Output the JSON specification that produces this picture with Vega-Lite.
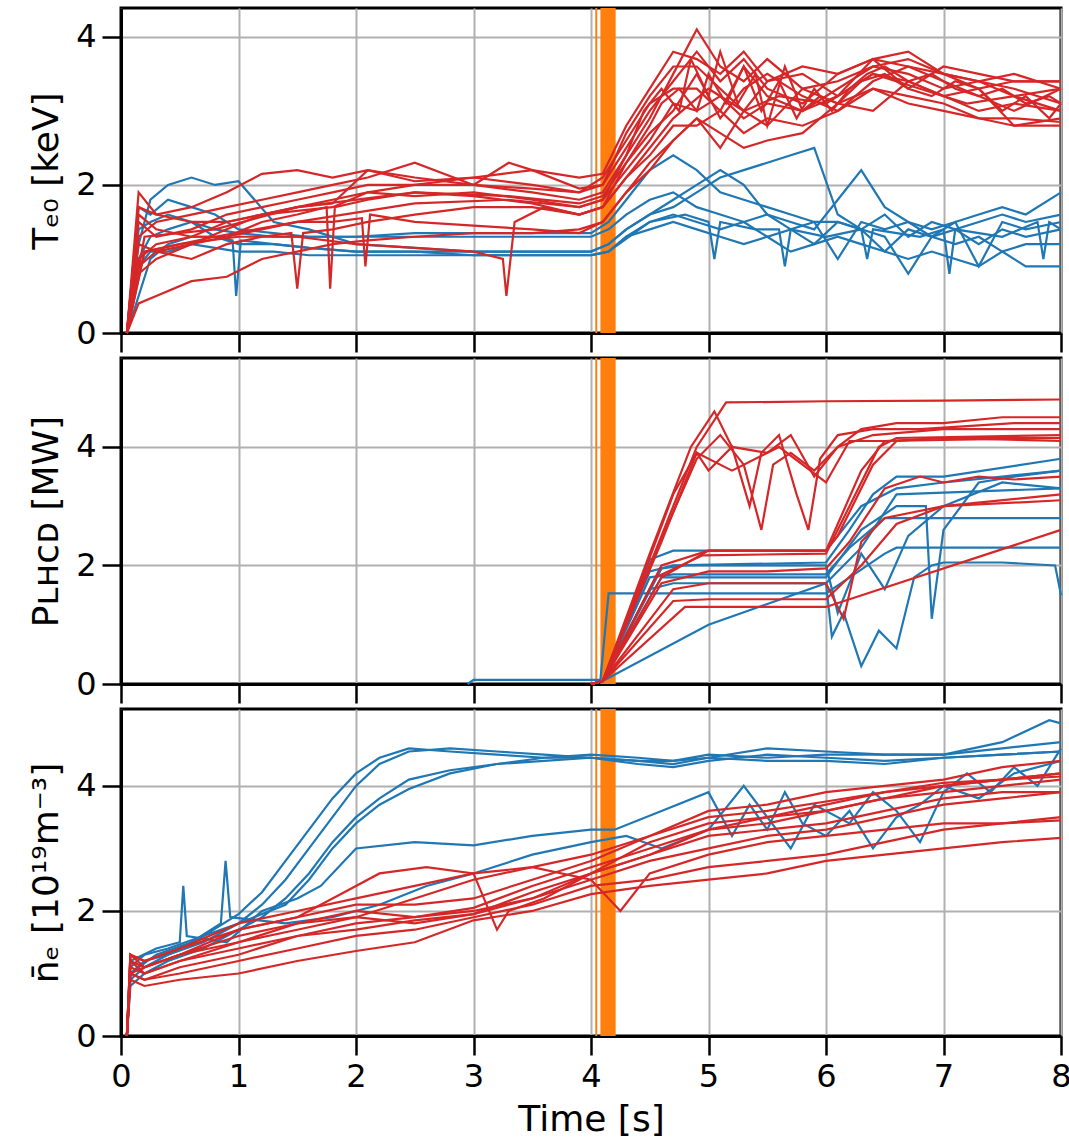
{
"$schema":"https://vega.github.io/schema/vega-lite/v6.json",
"padding":{"left":27,"top":5,"right":0,"bottom":2},
"spacing":25,
"bounds":"flush",
"datasets":{
"teR":[
{"s":1,"t":0.05,"v":0},{"s":1,"t":0.15,"v":1.5},{"s":1,"t":0.3,"v":1.3},{"s":1,"t":0.6,"v":1.4},{"s":1,"t":0.9,"v":1.6},{"s":1,"t":1.2,"v":1.7},{"s":1,"t":1.5,"v":1.8},{"s":1,"t":1.8,"v":1.9},{"s":1,"t":2.1,"v":2.0},{"s":1,"t":2.5,"v":2.0},{"s":1,"t":3.0,"v":2.0},{"s":1,"t":3.5,"v":1.9},{"s":1,"t":3.9,"v":1.8},{"s":1,"t":4.1,"v":1.9},{"s":1,"t":4.3,"v":2.4},{"s":1,"t":4.5,"v":2.9},{"s":1,"t":4.7,"v":3.5},{"s":1,"t":4.9,"v":4.1},{"s":1,"t":5.1,"v":3.6},{"s":1,"t":5.3,"v":3.4},{"s":1,"t":5.5,"v":3.7},{"s":1,"t":5.8,"v":3.3},{"s":1,"t":6.1,"v":3.4},{"s":1,"t":6.4,"v":3.6},{"s":1,"t":6.7,"v":3.5},{"s":1,"t":7.0,"v":3.3},{"s":1,"t":7.3,"v":3.4},{"s":1,"t":7.6,"v":3.2},{"s":1,"t":8.0,"v":3.3},
{"s":2,"t":0.05,"v":0},{"s":2,"t":0.15,"v":1.0},{"s":2,"t":0.3,"v":1.2},{"s":2,"t":0.6,"v":1.3},{"s":2,"t":0.9,"v":1.5},{"s":2,"t":1.2,"v":1.6},{"s":2,"t":1.5,"v":1.7},{"s":2,"t":1.8,"v":1.8},{"s":2,"t":2.1,"v":1.9},{"s":2,"t":2.5,"v":2.0},{"s":2,"t":3.0,"v":2.1},{"s":2,"t":3.5,"v":2.0},{"s":2,"t":3.9,"v":1.9},{"s":2,"t":4.1,"v":2.0},{"s":2,"t":4.3,"v":2.5},{"s":2,"t":4.5,"v":3.0},{"s":2,"t":4.7,"v":3.4},{"s":2,"t":4.9,"v":3.8},{"s":2,"t":5.1,"v":3.4},{"s":2,"t":5.3,"v":3.7},{"s":2,"t":5.5,"v":3.3},{"s":2,"t":5.8,"v":3.1},{"s":2,"t":6.1,"v":3.5},{"s":2,"t":6.4,"v":3.7},{"s":2,"t":6.7,"v":3.6},{"s":2,"t":7.0,"v":3.5},{"s":2,"t":7.3,"v":3.3},{"s":2,"t":7.6,"v":3.4},{"s":2,"t":8.0,"v":3.4},
{"s":3,"t":0.05,"v":0},{"s":3,"t":0.15,"v":0.8},{"s":3,"t":0.3,"v":1.0},{"s":3,"t":0.6,"v":1.2},{"s":3,"t":0.9,"v":1.4},{"s":3,"t":1.2,"v":1.6},{"s":3,"t":1.5,"v":1.65},{"s":3,"t":1.8,"v":1.7},{"s":3,"t":2.1,"v":1.9},{"s":3,"t":2.5,"v":1.85},{"s":3,"t":3.0,"v":1.9},{"s":3,"t":3.5,"v":1.8},{"s":3,"t":3.9,"v":1.7},{"s":3,"t":4.1,"v":1.8},{"s":3,"t":4.3,"v":2.2},{"s":3,"t":4.5,"v":2.6},{"s":3,"t":4.7,"v":3.1},{"s":3,"t":4.9,"v":3.0},{"s":3,"t":5.1,"v":3.2},{"s":3,"t":5.3,"v":2.9},{"s":3,"t":5.5,"v":3.1},{"s":3,"t":5.8,"v":3.0},{"s":3,"t":6.1,"v":3.2},{"s":3,"t":6.4,"v":3.5},{"s":3,"t":6.7,"v":3.4},{"s":3,"t":7.0,"v":3.2},{"s":3,"t":7.3,"v":3.0},{"s":3,"t":7.6,"v":3.1},{"s":3,"t":8.0,"v":3.0},
{"s":4,"t":0.05,"v":0},{"s":4,"t":0.15,"v":1.9},{"s":4,"t":0.3,"v":1.6},{"s":4,"t":0.6,"v":1.5},{"s":4,"t":0.9,"v":1.5},{"s":4,"t":1.2,"v":1.6},{"s":4,"t":1.5,"v":1.7},{"s":4,"t":1.8,"v":1.75},{"s":4,"t":2.1,"v":2.2},{"s":4,"t":2.5,"v":2.1},{"s":4,"t":3.0,"v":2.0},{"s":4,"t":3.5,"v":1.95},{"s":4,"t":3.9,"v":1.9},{"s":4,"t":4.1,"v":2.1},{"s":4,"t":4.3,"v":2.6},{"s":4,"t":4.5,"v":3.1},{"s":4,"t":4.7,"v":3.3},{"s":4,"t":4.9,"v":3.3},{"s":4,"t":5.1,"v":3.0},{"s":4,"t":5.3,"v":3.6},{"s":4,"t":5.5,"v":3.2},{"s":4,"t":5.8,"v":3.0},{"s":4,"t":6.1,"v":3.3},{"s":4,"t":6.4,"v":3.6},{"s":4,"t":6.7,"v":3.7},{"s":4,"t":7.0,"v":3.5},{"s":4,"t":7.3,"v":3.4},{"s":4,"t":7.6,"v":3.3},{"s":4,"t":8.0,"v":3.1},
{"s":5,"t":0.05,"v":0},{"s":5,"t":0.15,"v":1.2},{"s":5,"t":0.3,"v":1.1},{"s":5,"t":0.6,"v":1.0},{"s":5,"t":0.9,"v":1.2},{"s":5,"t":1.2,"v":1.3},{"s":5,"t":1.45,"v":1.35},{"s":5,"t":1.5,"v":0.6},{"s":5,"t":1.55,"v":1.35},{"s":5,"t":1.8,"v":1.4},{"s":5,"t":2.1,"v":1.5},{"s":5,"t":2.5,"v":1.6},{"s":5,"t":3.0,"v":1.7},{"s":5,"t":3.5,"v":1.7},{"s":5,"t":3.9,"v":1.6},{"s":5,"t":4.1,"v":1.7},{"s":5,"t":4.3,"v":2.1},{"s":5,"t":4.5,"v":2.4},{"s":5,"t":4.7,"v":2.8},{"s":5,"t":4.9,"v":2.8},{"s":5,"t":5.1,"v":3.0},{"s":5,"t":5.3,"v":2.7},{"s":5,"t":5.5,"v":2.9},{"s":5,"t":5.8,"v":2.8},{"s":5,"t":6.1,"v":3.0},{"s":5,"t":6.4,"v":3.3},{"s":5,"t":6.7,"v":3.2},{"s":5,"t":7.0,"v":3.1},{"s":5,"t":7.3,"v":2.9},{"s":5,"t":7.6,"v":2.8},{"s":5,"t":8.0,"v":2.9},
{"s":6,"t":0.05,"v":0},{"s":6,"t":0.15,"v":1.6},{"s":6,"t":0.3,"v":1.4},{"s":6,"t":0.6,"v":1.3},{"s":6,"t":0.9,"v":1.3},{"s":6,"t":1.2,"v":1.5},{"s":6,"t":1.5,"v":1.6},{"s":6,"t":1.75,"v":1.7},{"s":6,"t":1.78,"v":0.6},{"s":6,"t":1.82,"v":1.7},{"s":6,"t":2.1,"v":1.8},{"s":6,"t":2.5,"v":1.9},{"s":6,"t":3.0,"v":1.85},{"s":6,"t":3.5,"v":1.75},{"s":6,"t":3.9,"v":1.6},{"s":6,"t":4.1,"v":1.7},{"s":6,"t":4.3,"v":2.3},{"s":6,"t":4.5,"v":2.7},{"s":6,"t":4.7,"v":3.0},{"s":6,"t":4.9,"v":3.5},{"s":6,"t":5.1,"v":2.9},{"s":6,"t":5.3,"v":3.3},{"s":6,"t":5.5,"v":3.5},{"s":6,"t":5.8,"v":3.2},{"s":6,"t":6.1,"v":3.0},{"s":6,"t":6.4,"v":3.4},{"s":6,"t":6.7,"v":3.6},{"s":6,"t":7.0,"v":3.4},{"s":6,"t":7.3,"v":3.2},{"s":6,"t":7.6,"v":3.0},{"s":6,"t":8.0,"v":3.3},
{"s":7,"t":0.05,"v":0},{"s":7,"t":0.15,"v":1.3},{"s":7,"t":0.3,"v":1.5},{"s":7,"t":0.6,"v":1.6},{"s":7,"t":0.9,"v":1.7},{"s":7,"t":1.2,"v":1.8},{"s":7,"t":1.5,"v":1.9},{"s":7,"t":1.8,"v":2.0},{"s":7,"t":2.1,"v":2.1},{"s":7,"t":2.5,"v":2.3},{"s":7,"t":3.0,"v":2.0},{"s":7,"t":3.3,"v":2.3},{"s":7,"t":3.5,"v":2.2},{"s":7,"t":3.9,"v":1.95},{"s":7,"t":4.1,"v":2.0},{"s":7,"t":4.3,"v":2.7},{"s":7,"t":4.5,"v":3.2},{"s":7,"t":4.7,"v":3.6},{"s":7,"t":4.9,"v":3.6},{"s":7,"t":5.1,"v":3.3},{"s":7,"t":5.3,"v":3.0},{"s":7,"t":5.5,"v":3.4},{"s":7,"t":5.8,"v":3.5},{"s":7,"t":6.1,"v":3.2},{"s":7,"t":6.4,"v":3.7},{"s":7,"t":6.7,"v":3.3},{"s":7,"t":7.0,"v":3.6},{"s":7,"t":7.3,"v":3.5},{"s":7,"t":7.6,"v":3.4},{"s":7,"t":8.0,"v":3.4},
{"s":8,"t":0.05,"v":0},{"s":8,"t":0.15,"v":0.9},{"s":8,"t":0.3,"v":1.1},{"s":8,"t":0.6,"v":1.2},{"s":8,"t":0.9,"v":1.3},{"s":8,"t":1.2,"v":1.4},{"s":8,"t":1.5,"v":1.5},{"s":8,"t":1.8,"v":1.5},{"s":8,"t":2.05,"v":1.55},{"s":8,"t":2.08,"v":0.9},{"s":8,"t":2.12,"v":1.6},{"s":8,"t":2.5,"v":1.5},{"s":8,"t":3.0,"v":1.45},{"s":8,"t":3.5,"v":1.4},{"s":8,"t":3.9,"v":1.35},{"s":8,"t":4.1,"v":1.5},{"s":8,"t":4.3,"v":1.9},{"s":8,"t":4.5,"v":2.2},{"s":8,"t":4.7,"v":2.6},{"s":8,"t":4.9,"v":2.9},{"s":8,"t":5.1,"v":2.5},{"s":8,"t":5.3,"v":3.0},{"s":8,"t":5.5,"v":2.8},{"s":8,"t":5.8,"v":3.3},{"s":8,"t":6.1,"v":3.1},{"s":8,"t":6.4,"v":3.0},{"s":8,"t":6.7,"v":3.4},{"s":8,"t":7.0,"v":3.2},{"s":8,"t":7.3,"v":3.3},{"s":8,"t":7.6,"v":2.8},{"s":8,"t":8.0,"v":2.8},
{"s":9,"t":0.05,"v":0},{"s":9,"t":0.2,"v":1.1},{"s":9,"t":0.5,"v":1.2},{"s":9,"t":1.0,"v":1.3},{"s":9,"t":1.5,"v":1.3},{"s":9,"t":2.0,"v":1.2},{"s":9,"t":2.5,"v":1.15},{"s":9,"t":3.0,"v":1.1},{"s":9,"t":3.25,"v":1.0},{"s":9,"t":3.28,"v":0.5},{"s":9,"t":3.35,"v":1.5},{"s":9,"t":3.6,"v":1.7},{"s":9,"t":3.9,"v":1.6},{"s":9,"t":4.1,"v":1.7},{"s":9,"t":4.4,"v":2.3},{"s":9,"t":4.7,"v":2.9},{"s":9,"t":5.0,"v":3.3},{"s":9,"t":5.3,"v":3.0},{"s":9,"t":5.6,"v":3.2},{"s":9,"t":6.0,"v":3.1},{"s":9,"t":6.4,"v":3.5},{"s":9,"t":6.8,"v":3.3},{"s":9,"t":7.2,"v":3.1},{"s":9,"t":7.6,"v":3.2},{"s":9,"t":8.0,"v":3.0},
{"s":10,"t":0.05,"v":0},{"s":10,"t":0.15,"v":0.4},{"s":10,"t":0.3,"v":0.5},{"s":10,"t":0.6,"v":0.7},{"s":10,"t":0.9,"v":0.76},{"s":10,"t":1.2,"v":1.0},{"s":10,"t":1.5,"v":1.1},{"s":10,"t":1.8,"v":1.2},{"s":10,"t":2.1,"v":1.25},{"s":10,"t":2.5,"v":1.3},{"s":10,"t":3.0,"v":1.35},{"s":10,"t":3.5,"v":1.35},{"s":10,"t":3.9,"v":1.4},{"s":10,"t":4.1,"v":1.5},{"s":10,"t":4.3,"v":1.9},{"s":10,"t":4.5,"v":2.3},{"s":10,"t":4.7,"v":2.6},{"s":10,"t":4.9,"v":2.9},{"s":10,"t":5.1,"v":2.7},{"s":10,"t":5.3,"v":2.5},{"s":10,"t":5.5,"v":2.6},{"s":10,"t":5.8,"v":2.7},{"s":10,"t":6.1,"v":3.1},{"s":10,"t":6.4,"v":3.3},{"s":10,"t":6.7,"v":3.1},{"s":10,"t":7.0,"v":3.0},{"s":10,"t":7.3,"v":2.9},{"s":10,"t":7.6,"v":2.9},{"s":10,"t":8.0,"v":2.85},
{"s":11,"t":0.05,"v":0},{"s":11,"t":0.15,"v":1.7},{"s":11,"t":0.3,"v":1.6},{"s":11,"t":0.6,"v":1.7},{"s":11,"t":0.9,"v":1.9},{"s":11,"t":1.2,"v":2.15},{"s":11,"t":1.5,"v":2.2},{"s":11,"t":1.8,"v":2.1},{"s":11,"t":2.1,"v":2.2},{"s":11,"t":2.5,"v":2.05},{"s":11,"t":3.0,"v":2.1},{"s":11,"t":3.5,"v":2.2},{"s":11,"t":3.9,"v":2.1},{"s":11,"t":4.1,"v":2.15},{"s":11,"t":4.3,"v":2.8},{"s":11,"t":4.5,"v":3.3},{"s":11,"t":4.7,"v":3.8},{"s":11,"t":4.9,"v":3.7},{"s":11,"t":5.1,"v":3.5},{"s":11,"t":5.3,"v":3.8},{"s":11,"t":5.5,"v":3.4},{"s":11,"t":5.8,"v":3.6},{"s":11,"t":6.1,"v":3.5},{"s":11,"t":6.4,"v":3.7},{"s":11,"t":6.7,"v":3.8},{"s":11,"t":7.0,"v":3.5},{"s":11,"t":7.3,"v":3.4},{"s":11,"t":7.6,"v":3.5},{"s":11,"t":8.0,"v":3.3},
{"s":12,"t":0.05,"v":0},{"s":12,"t":0.2,"v":1.3},{"s":12,"t":0.8,"v":1.4},{"s":12,"t":1.5,"v":1.7},{"s":12,"t":2.5,"v":1.9},{"s":12,"t":3.3,"v":1.85},{"s":12,"t":3.9,"v":1.75},{"s":12,"t":4.1,"v":1.85},{"s":12,"t":4.3,"v":2.3},{"s":12,"t":4.5,"v":2.8},{"s":12,"t":4.6,"v":3.1},{"s":12,"t":4.75,"v":3.3},{"s":12,"t":4.9,"v":3.0},{"s":12,"t":5.0,"v":3.5},{"s":12,"t":5.15,"v":3.1},{"s":12,"t":5.3,"v":3.6},{"s":12,"t":5.45,"v":3.0},{"s":12,"t":5.6,"v":3.4},{"s":12,"t":5.75,"v":2.9},{"s":12,"t":5.9,"v":3.3},{"s":12,"t":6.05,"v":3.0},{"s":12,"t":6.2,"v":3.3},{"s":12,"t":6.35,"v":3.5},{"s":12,"t":6.5,"v":3.6},{"s":12,"t":6.7,"v":3.4},{"s":12,"t":6.9,"v":3.5},{"s":12,"t":7.1,"v":3.3},{"s":12,"t":7.3,"v":3.2},{"s":12,"t":7.5,"v":3.3},{"s":12,"t":7.7,"v":3.1},{"s":12,"t":7.9,"v":3.2},{"s":12,"t":8.0,"v":3.1},
{"s":13,"t":0.05,"v":0},{"s":13,"t":0.2,"v":1.1},{"s":13,"t":0.8,"v":1.3},{"s":13,"t":1.5,"v":1.5},{"s":13,"t":2.5,"v":1.75},{"s":13,"t":3.3,"v":1.8},{"s":13,"t":3.9,"v":1.7},{"s":13,"t":4.1,"v":1.8},{"s":13,"t":4.3,"v":2.4},{"s":13,"t":4.45,"v":3.0},{"s":13,"t":4.6,"v":3.3},{"s":13,"t":4.75,"v":3.0},{"s":13,"t":4.85,"v":3.7},{"s":13,"t":5.0,"v":3.2},{"s":13,"t":5.1,"v":3.8},{"s":13,"t":5.25,"v":3.1},{"s":13,"t":5.4,"v":3.5},{"s":13,"t":5.5,"v":2.8},{"s":13,"t":5.65,"v":3.6},{"s":13,"t":5.8,"v":3.0},{"s":13,"t":5.95,"v":3.2},{"s":13,"t":6.1,"v":3.1},{"s":13,"t":6.3,"v":3.4},{"s":13,"t":6.5,"v":3.5},{"s":13,"t":6.7,"v":3.3},{"s":13,"t":6.9,"v":3.2},{"s":13,"t":7.1,"v":3.4},{"s":13,"t":7.3,"v":3.3},{"s":13,"t":7.5,"v":3.0},{"s":13,"t":7.7,"v":3.2},{"s":13,"t":7.9,"v":2.9},{"s":13,"t":8.0,"v":3.1}
],
"teB":[
{"s":1,"t":0.05,"v":0},{"s":1,"t":0.15,"v":0.9},{"s":1,"t":0.25,"v":1.1},{"s":1,"t":0.4,"v":1.1},{"s":1,"t":0.6,"v":1.2},{"s":1,"t":0.8,"v":1.15},{"s":1,"t":1.0,"v":1.1},{"s":1,"t":1.3,"v":1.1},{"s":1,"t":1.6,"v":1.05},{"s":1,"t":2.0,"v":1.05},{"s":1,"t":2.5,"v":1.05},{"s":1,"t":3.0,"v":1.05},{"s":1,"t":3.5,"v":1.05},{"s":1,"t":4.0,"v":1.05},{"s":1,"t":4.15,"v":1.1},{"s":1,"t":4.3,"v":1.3},{"s":1,"t":4.5,"v":1.5},{"s":1,"t":4.7,"v":1.6},{"s":1,"t":4.9,"v":1.5},{"s":1,"t":5.1,"v":1.4},{"s":1,"t":5.3,"v":1.5},{"s":1,"t":5.5,"v":1.3},{"s":1,"t":5.7,"v":1.4},{"s":1,"t":5.9,"v":1.2},{"s":1,"t":6.1,"v":1.5},{"s":1,"t":6.3,"v":1.4},{"s":1,"t":6.5,"v":1.1},{"s":1,"t":6.7,"v":1.4},{"s":1,"t":6.9,"v":1.3},{"s":1,"t":7.1,"v":1.4},{"s":1,"t":7.3,"v":1.2},{"s":1,"t":7.5,"v":1.4},{"s":1,"t":7.7,"v":1.3},{"s":1,"t":8.0,"v":1.4},
{"s":2,"t":0.05,"v":0},{"s":2,"t":0.15,"v":1.7},{"s":2,"t":0.25,"v":1.6},{"s":2,"t":0.4,"v":1.8},{"s":2,"t":0.6,"v":1.7},{"s":2,"t":0.8,"v":1.6},{"s":2,"t":1.0,"v":1.4},{"s":2,"t":1.3,"v":1.35},{"s":2,"t":1.6,"v":1.3},{"s":2,"t":2.0,"v":1.3},{"s":2,"t":2.5,"v":1.3},{"s":2,"t":3.0,"v":1.3},{"s":2,"t":3.5,"v":1.3},{"s":2,"t":4.0,"v":1.3},{"s":2,"t":4.15,"v":1.4},{"s":2,"t":4.3,"v":1.6},{"s":2,"t":4.5,"v":1.8},{"s":2,"t":4.7,"v":1.9},{"s":2,"t":4.9,"v":1.7},{"s":2,"t":5.1,"v":1.6},{"s":2,"t":5.3,"v":1.5},{"s":2,"t":5.5,"v":1.6},{"s":2,"t":5.7,"v":1.4},{"s":2,"t":5.9,"v":1.5},{"s":2,"t":6.1,"v":1.0},{"s":2,"t":6.3,"v":1.5},{"s":2,"t":6.5,"v":1.4},{"s":2,"t":6.7,"v":1.5},{"s":2,"t":6.9,"v":1.3},{"s":2,"t":7.1,"v":1.5},{"s":2,"t":7.3,"v":0.9},{"s":2,"t":7.5,"v":1.5},{"s":2,"t":7.7,"v":1.4},{"s":2,"t":8.0,"v":1.5},
{"s":3,"t":0.05,"v":0},{"s":3,"t":0.15,"v":1.4},{"s":3,"t":0.25,"v":1.5},{"s":3,"t":0.4,"v":1.6},{"s":3,"t":0.6,"v":1.5},{"s":3,"t":0.8,"v":1.4},{"s":3,"t":1.0,"v":1.35},{"s":3,"t":1.3,"v":1.3},{"s":3,"t":1.6,"v":1.3},{"s":3,"t":2.0,"v":1.3},{"s":3,"t":2.5,"v":1.35},{"s":3,"t":3.0,"v":1.35},{"s":3,"t":3.5,"v":1.35},{"s":3,"t":4.0,"v":1.35},{"s":3,"t":4.15,"v":1.5},{"s":3,"t":4.3,"v":1.8},{"s":3,"t":4.5,"v":2.2},{"s":3,"t":4.7,"v":2.4},{"s":3,"t":4.9,"v":2.2},{"s":3,"t":5.1,"v":1.9},{"s":3,"t":5.3,"v":1.8},{"s":3,"t":5.5,"v":1.7},{"s":3,"t":5.7,"v":1.6},{"s":3,"t":5.9,"v":1.5},{"s":3,"t":6.1,"v":1.5},{"s":3,"t":6.3,"v":1.4},{"s":3,"t":6.5,"v":1.6},{"s":3,"t":6.7,"v":1.3},{"s":3,"t":6.9,"v":1.5},{"s":3,"t":7.1,"v":1.4},{"s":3,"t":7.3,"v":1.5},{"s":3,"t":7.5,"v":1.6},{"s":3,"t":7.7,"v":1.5},{"s":3,"t":8.0,"v":1.6},
{"s":4,"t":0.05,"v":0},{"s":4,"t":0.15,"v":1.2},{"s":4,"t":0.25,"v":1.8},{"s":4,"t":0.4,"v":2.0},{"s":4,"t":0.6,"v":2.1},{"s":4,"t":0.8,"v":2.0},{"s":4,"t":1.0,"v":2.05},{"s":4,"t":1.3,"v":1.5},{"s":4,"t":1.6,"v":1.4},{"s":4,"t":2.0,"v":1.2},{"s":4,"t":2.5,"v":1.15},{"s":4,"t":3.0,"v":1.1},{"s":4,"t":3.5,"v":1.1},{"s":4,"t":4.0,"v":1.1},{"s":4,"t":4.15,"v":1.2},{"s":4,"t":4.3,"v":1.4},{"s":4,"t":4.5,"v":1.6},{"s":4,"t":4.7,"v":1.7},{"s":4,"t":4.9,"v":1.9},{"s":4,"t":5.1,"v":2.1},{"s":4,"t":5.3,"v":2.2},{"s":4,"t":5.5,"v":2.3},{"s":4,"t":5.7,"v":2.4},{"s":4,"t":5.9,"v":2.5},{"s":4,"t":6.1,"v":1.6},{"s":4,"t":6.3,"v":1.4},{"s":4,"t":6.5,"v":1.3},{"s":4,"t":6.7,"v":0.8},{"s":4,"t":6.9,"v":1.3},{"s":4,"t":7.1,"v":1.2},{"s":4,"t":7.3,"v":1.3},{"s":4,"t":7.5,"v":1.1},{"s":4,"t":7.7,"v":1.2},{"s":4,"t":8.0,"v":1.2},
{"s":5,"t":0.05,"v":0},{"s":5,"t":0.15,"v":1.0},{"s":5,"t":0.25,"v":1.3},{"s":5,"t":0.4,"v":1.4},{"s":5,"t":0.6,"v":1.5},{"s":5,"t":0.8,"v":1.3},{"s":5,"t":1.0,"v":1.2},{"s":5,"t":1.3,"v":1.2},{"s":5,"t":1.6,"v":1.15},{"s":5,"t":2.0,"v":1.1},{"s":5,"t":2.5,"v":1.1},{"s":5,"t":3.0,"v":1.1},{"s":5,"t":3.5,"v":1.1},{"s":5,"t":4.0,"v":1.1},{"s":5,"t":4.15,"v":1.2},{"s":5,"t":4.3,"v":1.4},{"s":5,"t":4.5,"v":1.6},{"s":5,"t":4.7,"v":1.8},{"s":5,"t":4.9,"v":2.0},{"s":5,"t":5.1,"v":2.2},{"s":5,"t":5.3,"v":2.0},{"s":5,"t":5.5,"v":1.6},{"s":5,"t":5.7,"v":1.5},{"s":5,"t":5.9,"v":1.4},{"s":5,"t":6.1,"v":1.8},{"s":5,"t":6.3,"v":2.2},{"s":5,"t":6.5,"v":1.7},{"s":5,"t":6.7,"v":1.5},{"s":5,"t":6.9,"v":1.4},{"s":5,"t":7.1,"v":1.5},{"s":5,"t":7.3,"v":1.6},{"s":5,"t":7.5,"v":1.7},{"s":5,"t":7.7,"v":1.6},{"s":5,"t":8.0,"v":1.9},
{"s":6,"t":0.05,"v":0},{"s":6,"t":0.15,"v":0.5},{"s":6,"t":0.25,"v":1.0},{"s":6,"t":0.4,"v":1.2},{"s":6,"t":0.6,"v":1.3},{"s":6,"t":0.8,"v":1.3},{"s":6,"t":0.95,"v":1.25},{"s":6,"t":0.98,"v":0.5},{"s":6,"t":1.02,"v":1.25},{"s":6,"t":1.3,"v":1.2},{"s":6,"t":1.6,"v":1.15},{"s":6,"t":2.0,"v":1.1},{"s":6,"t":2.5,"v":1.1},{"s":6,"t":3.0,"v":1.05},{"s":6,"t":3.5,"v":1.05},{"s":6,"t":4.0,"v":1.05},{"s":6,"t":4.15,"v":1.1},{"s":6,"t":4.3,"v":1.3},{"s":6,"t":4.5,"v":1.4},{"s":6,"t":4.7,"v":1.5},{"s":6,"t":4.9,"v":1.4},{"s":6,"t":5.1,"v":1.3},{"s":6,"t":5.3,"v":1.2},{"s":6,"t":5.5,"v":1.3},{"s":6,"t":5.7,"v":1.1},{"s":6,"t":5.9,"v":1.2},{"s":6,"t":6.1,"v":1.3},{"s":6,"t":6.3,"v":1.2},{"s":6,"t":6.5,"v":1.1},{"s":6,"t":6.7,"v":1.0},{"s":6,"t":6.9,"v":1.1},{"s":6,"t":7.1,"v":1.0},{"s":6,"t":7.3,"v":0.9},{"s":6,"t":7.5,"v":1.1},{"s":6,"t":7.7,"v":0.9},{"s":6,"t":8.0,"v":0.9},
{"s":7,"t":4.0,"v":1.05},{"s":7,"t":4.15,"v":1.1},{"s":7,"t":4.5,"v":1.5},{"s":7,"t":4.8,"v":1.6},{"s":7,"t":5.0,"v":1.5},{"s":7,"t":5.05,"v":1.0},{"s":7,"t":5.1,"v":1.5},{"s":7,"t":5.4,"v":1.4},{"s":7,"t":5.6,"v":1.4},{"s":7,"t":5.65,"v":0.9},{"s":7,"t":5.7,"v":1.4},{"s":7,"t":6.0,"v":1.3},{"s":7,"t":6.3,"v":1.4},{"s":7,"t":6.35,"v":1.0},{"s":7,"t":6.4,"v":1.4},{"s":7,"t":6.8,"v":1.3},{"s":7,"t":7.0,"v":1.4},{"s":7,"t":7.05,"v":0.8},{"s":7,"t":7.1,"v":1.4},{"s":7,"t":7.5,"v":1.3},{"s":7,"t":7.8,"v":1.5},{"s":7,"t":7.85,"v":1.0},{"s":7,"t":7.9,"v":1.5},{"s":7,"t":8.0,"v":1.4}
],
"pR":[
{"s":1,"t":4.0,"v":0},{"s":1,"t":4.1,"v":0.05},{"s":1,"t":4.5,"v":2.0},{"s":1,"t":4.9,"v":4.0},{"s":1,"t":5.15,"v":4.75},{"s":1,"t":6.0,"v":4.77},{"s":1,"t":7.0,"v":4.78},{"s":1,"t":8.0,"v":4.8},
{"s":2,"t":4.0,"v":0},{"s":2,"t":4.1,"v":0.05},{"s":2,"t":4.5,"v":2.2},{"s":2,"t":4.85,"v":4.0},{"s":2,"t":5.05,"v":4.6},{"s":2,"t":5.2,"v":4.0},{"s":2,"t":5.5,"v":3.9},{"s":2,"t":5.7,"v":4.2},{"s":2,"t":5.9,"v":3.5},{"s":2,"t":6.1,"v":4.0},{"s":2,"t":6.3,"v":4.3},{"s":2,"t":6.6,"v":4.4},{"s":2,"t":7.0,"v":4.4},{"s":2,"t":7.5,"v":4.5},{"s":2,"t":8.0,"v":4.5},
{"s":3,"t":4.0,"v":0},{"s":3,"t":4.1,"v":0.05},{"s":3,"t":4.4,"v":1.6},{"s":3,"t":4.7,"v":3.2},{"s":3,"t":4.9,"v":3.9},{"s":3,"t":5.0,"v":3.6},{"s":3,"t":5.2,"v":4.0},{"s":3,"t":5.35,"v":3.0},{"s":3,"t":5.45,"v":3.9},{"s":3,"t":5.6,"v":4.2},{"s":3,"t":5.75,"v":3.2},{"s":3,"t":5.85,"v":2.6},{"s":3,"t":5.95,"v":3.8},{"s":3,"t":6.1,"v":4.2},{"s":3,"t":6.4,"v":4.3},{"s":3,"t":6.8,"v":4.3},{"s":3,"t":7.2,"v":4.35},{"s":3,"t":7.6,"v":4.4},{"s":3,"t":8.0,"v":4.4},
{"s":4,"t":4.0,"v":0},{"s":4,"t":4.1,"v":0.05},{"s":4,"t":4.5,"v":2.0},{"s":4,"t":4.9,"v":3.8},{"s":4,"t":5.1,"v":4.2},{"s":4,"t":5.3,"v":3.7},{"s":4,"t":5.45,"v":2.6},{"s":4,"t":5.55,"v":3.7},{"s":4,"t":5.7,"v":3.9},{"s":4,"t":5.9,"v":3.6},{"s":4,"t":6.1,"v":4.0},{"s":4,"t":6.4,"v":4.2},{"s":4,"t":7.0,"v":4.3},{"s":4,"t":8.0,"v":4.3},
{"s":5,"t":4.0,"v":0},{"s":5,"t":4.1,"v":0.05},{"s":5,"t":4.6,"v":1.8},{"s":5,"t":5.0,"v":2.25},{"s":5,"t":6.0,"v":2.25},{"s":5,"t":6.1,"v":2.5},{"s":5,"t":6.4,"v":3.7},{"s":5,"t":6.6,"v":4.1},{"s":5,"t":7.0,"v":4.15},{"s":5,"t":8.0,"v":4.1},
{"s":6,"t":4.0,"v":0},{"s":6,"t":4.1,"v":0.05},{"s":6,"t":4.55,"v":1.8},{"s":6,"t":4.95,"v":2.17},{"s":6,"t":6.0,"v":2.2},{"s":6,"t":6.2,"v":3.0},{"s":6,"t":6.45,"v":4.0},{"s":6,"t":6.6,"v":4.15},{"s":6,"t":8.0,"v":4.2},
{"s":7,"t":4.0,"v":0},{"s":7,"t":4.1,"v":0.05},{"s":7,"t":4.8,"v":1.3},{"s":7,"t":5.0,"v":1.3},{"s":7,"t":6.0,"v":1.3},{"s":7,"t":8.0,"v":2.6},
{"s":8,"t":4.0,"v":0},{"s":8,"t":4.1,"v":0.05},{"s":8,"t":4.6,"v":1.7},{"s":8,"t":5.0,"v":1.9},{"s":8,"t":5.5,"v":1.9},{"s":8,"t":6.0,"v":1.95},{"s":8,"t":6.2,"v":2.4},{"s":8,"t":6.5,"v":3.3},{"s":8,"t":6.8,"v":3.5},{"s":8,"t":7.0,"v":3.4},{"s":8,"t":7.3,"v":3.5},{"s":8,"t":7.6,"v":3.45},{"s":8,"t":8.0,"v":3.5},
{"s":9,"t":4.0,"v":0},{"s":9,"t":4.1,"v":0.05},{"s":9,"t":4.7,"v":1.4},{"s":9,"t":5.0,"v":1.43},{"s":9,"t":6.0,"v":1.43},{"s":9,"t":6.3,"v":2.0},{"s":9,"t":6.6,"v":2.7},{"s":9,"t":7.0,"v":3.0},{"s":9,"t":8.0,"v":3.2},
{"s":10,"t":4.0,"v":0},{"s":10,"t":4.1,"v":0.05},{"s":10,"t":4.6,"v":2.4},{"s":10,"t":4.9,"v":3.9},{"s":10,"t":5.2,"v":3.6},{"s":10,"t":5.6,"v":4.0},{"s":10,"t":6.0,"v":3.4},{"s":10,"t":6.2,"v":4.1},{"s":10,"t":6.5,"v":4.1},{"s":10,"t":7.0,"v":4.15},{"s":10,"t":8.0,"v":4.15},
{"s":11,"t":4.0,"v":0},{"s":11,"t":4.1,"v":0.05},{"s":11,"t":4.7,"v":1.6},{"s":11,"t":5.0,"v":1.7},{"s":11,"t":6.0,"v":1.7},{"s":11,"t":6.15,"v":1.1},{"s":11,"t":6.3,"v":2.4},{"s":11,"t":6.5,"v":2.8},{"s":11,"t":7.0,"v":3.0},{"s":11,"t":8.0,"v":3.1},
{"s":12,"t":4.0,"v":0},{"s":12,"t":4.1,"v":0.05},{"s":12,"t":4.6,"v":2.0},{"s":12,"t":5.0,"v":2.25},{"s":12,"t":6.0,"v":2.25},{"s":12,"t":6.3,"v":3.6},{"s":12,"t":6.5,"v":4.1},{"s":12,"t":8.0,"v":4.15}
],
"pB":[
{"s":1,"t":2.95,"v":0},{"s":1,"t":3.0,"v":0.07},{"s":1,"t":4.08,"v":0.07},{"s":1,"t":4.15,"v":1.53},{"s":1,"t":6.0,"v":1.53},{"s":1,"t":6.5,"v":2.2},{"s":1,"t":6.6,"v":2.3},{"s":1,"t":8.0,"v":2.3},
{"s":2,"t":4.0,"v":0},{"s":2,"t":4.1,"v":0.05},{"s":2,"t":4.5,"v":2.1},{"s":2,"t":4.7,"v":2.25},{"s":2,"t":6.0,"v":2.25},{"s":2,"t":6.1,"v":2.5},{"s":2,"t":6.3,"v":3.0},{"s":2,"t":6.6,"v":3.3},{"s":2,"t":7.0,"v":3.4},{"s":2,"t":7.5,"v":3.5},{"s":2,"t":8.0,"v":3.6},
{"s":3,"t":4.0,"v":0},{"s":3,"t":4.1,"v":0.05},{"s":3,"t":4.5,"v":1.6},{"s":3,"t":4.7,"v":1.7},{"s":3,"t":6.0,"v":1.7},{"s":3,"t":6.05,"v":0.8},{"s":3,"t":6.15,"v":1.2},{"s":3,"t":6.3,"v":0.3},{"s":3,"t":6.45,"v":0.9},{"s":3,"t":6.6,"v":0.6},{"s":3,"t":6.75,"v":1.8},{"s":3,"t":6.9,"v":2.0},{"s":3,"t":7.0,"v":2.05},{"s":3,"t":7.5,"v":2.05},{"s":3,"t":7.95,"v":2.0},{"s":3,"t":8.0,"v":1.5},
{"s":4,"t":4.0,"v":0},{"s":4,"t":4.1,"v":0.05},{"s":4,"t":4.5,"v":1.8},{"s":4,"t":4.7,"v":1.85},{"s":4,"t":6.0,"v":1.85},{"s":4,"t":6.2,"v":2.3},{"s":4,"t":6.5,"v":2.8},{"s":4,"t":7.0,"v":2.8},{"s":4,"t":7.5,"v":2.8},{"s":4,"t":8.0,"v":2.8},
{"s":5,"t":4.0,"v":0},{"s":5,"t":4.1,"v":0.05},{"s":5,"t":4.5,"v":1.9},{"s":5,"t":4.7,"v":2.0},{"s":5,"t":6.0,"v":2.05},{"s":5,"t":6.2,"v":2.6},{"s":5,"t":6.4,"v":3.2},{"s":5,"t":6.6,"v":3.5},{"s":5,"t":7.0,"v":3.5},{"s":5,"t":8.0,"v":3.8},
{"s":6,"t":4.0,"v":0},{"s":6,"t":4.1,"v":0.05},{"s":6,"t":4.6,"v":1.95},{"s":6,"t":4.8,"v":2.0},{"s":6,"t":6.0,"v":2.0},{"s":6,"t":6.1,"v":1.2},{"s":6,"t":6.3,"v":2.2},{"s":6,"t":6.5,"v":1.6},{"s":6,"t":6.7,"v":2.5},{"s":6,"t":7.0,"v":3.0},{"s":6,"t":7.5,"v":3.4},{"s":6,"t":8.0,"v":3.3},
{"s":7,"t":4.0,"v":0},{"s":7,"t":4.1,"v":0.05},{"s":7,"t":4.6,"v":1.8},{"s":7,"t":6.0,"v":1.8},{"s":7,"t":6.3,"v":2.6},{"s":7,"t":6.6,"v":3.0},{"s":7,"t":6.85,"v":3.0},{"s":7,"t":6.9,"v":1.1},{"s":7,"t":7.0,"v":2.6},{"s":7,"t":7.3,"v":3.4},{"s":7,"t":7.6,"v":3.5},{"s":7,"t":8.0,"v":3.6},
{"s":8,"t":4.0,"v":0},{"s":8,"t":4.1,"v":0.05},{"s":8,"t":5.0,"v":1.0},{"s":8,"t":6.0,"v":1.7},{"s":8,"t":6.3,"v":2.3},{"s":8,"t":6.6,"v":3.2},{"s":8,"t":8.0,"v":3.3}
],
"nR":[
{"s":1,"t":0.05,"v":0},{"s":1,"t":0.08,"v":0.9},{"s":1,"t":0.2,"v":0.8},{"s":1,"t":0.5,"v":0.9},{"s":1,"t":1.0,"v":1.0},{"s":1,"t":1.5,"v":1.2},{"s":1,"t":2.0,"v":1.36},{"s":1,"t":2.5,"v":1.5},{"s":1,"t":3.0,"v":1.85},{"s":1,"t":3.5,"v":2.0},{"s":1,"t":4.0,"v":2.27},{"s":1,"t":4.5,"v":2.4},{"s":1,"t":5.0,"v":2.5},{"s":1,"t":5.5,"v":2.6},{"s":1,"t":6.0,"v":2.8},{"s":1,"t":6.5,"v":2.9},{"s":1,"t":7.0,"v":3.0},{"s":1,"t":7.5,"v":3.1},{"s":1,"t":8.0,"v":3.17},
{"s":2,"t":0.05,"v":0},{"s":2,"t":0.08,"v":1.0},{"s":2,"t":0.2,"v":0.9},{"s":2,"t":0.5,"v":1.0},{"s":2,"t":1.0,"v":1.2},{"s":2,"t":1.5,"v":1.4},{"s":2,"t":2.0,"v":1.6},{"s":2,"t":2.5,"v":1.7},{"s":2,"t":3.0,"v":1.9},{"s":2,"t":3.5,"v":2.1},{"s":2,"t":4.0,"v":2.4},{"s":2,"t":4.5,"v":2.5},{"s":2,"t":5.0,"v":2.7},{"s":2,"t":5.5,"v":2.8},{"s":2,"t":6.0,"v":2.9},{"s":2,"t":6.5,"v":3.1},{"s":2,"t":7.0,"v":3.3},{"s":2,"t":7.5,"v":3.4},{"s":2,"t":8.0,"v":3.45},
{"s":3,"t":0.05,"v":0},{"s":3,"t":0.08,"v":1.2},{"s":3,"t":0.2,"v":1.0},{"s":3,"t":0.5,"v":1.2},{"s":3,"t":1.0,"v":1.4},{"s":3,"t":1.5,"v":1.6},{"s":3,"t":2.0,"v":1.8},{"s":3,"t":2.5,"v":1.9},{"s":3,"t":3.0,"v":2.0},{"s":3,"t":3.5,"v":2.2},{"s":3,"t":4.0,"v":2.6},{"s":3,"t":4.5,"v":2.9},{"s":3,"t":5.0,"v":3.2},{"s":3,"t":5.5,"v":3.3},{"s":3,"t":6.0,"v":3.4},{"s":3,"t":6.5,"v":3.6},{"s":3,"t":7.0,"v":3.8},{"s":3,"t":7.5,"v":3.9},{"s":3,"t":8.0,"v":3.9},
{"s":4,"t":0.05,"v":0},{"s":4,"t":0.08,"v":1.3},{"s":4,"t":0.2,"v":1.1},{"s":4,"t":0.5,"v":1.3},{"s":4,"t":1.0,"v":1.6},{"s":4,"t":1.5,"v":1.8},{"s":4,"t":2.0,"v":2.0},{"s":4,"t":2.5,"v":1.9},{"s":4,"t":3.0,"v":2.05},{"s":4,"t":3.5,"v":2.4},{"s":4,"t":4.0,"v":2.7},{"s":4,"t":4.5,"v":3.0},{"s":4,"t":5.0,"v":3.3},{"s":4,"t":5.5,"v":3.4},{"s":4,"t":6.0,"v":3.6},{"s":4,"t":6.5,"v":3.8},{"s":4,"t":7.0,"v":3.9},{"s":4,"t":7.5,"v":4.0},{"s":4,"t":8.0,"v":4.1},
{"s":5,"t":0.05,"v":0},{"s":5,"t":0.08,"v":1.1},{"s":5,"t":0.2,"v":1.0},{"s":5,"t":0.5,"v":1.2},{"s":5,"t":1.0,"v":1.5},{"s":5,"t":1.5,"v":1.7},{"s":5,"t":2.0,"v":1.9},{"s":5,"t":2.5,"v":1.8},{"s":5,"t":3.0,"v":1.95},{"s":5,"t":3.5,"v":2.3},{"s":5,"t":4.0,"v":2.6},{"s":5,"t":4.5,"v":3.1},{"s":5,"t":5.0,"v":3.4},{"s":5,"t":5.5,"v":3.5},{"s":5,"t":6.0,"v":3.7},{"s":5,"t":6.5,"v":3.9},{"s":5,"t":7.0,"v":4.0},{"s":5,"t":7.5,"v":4.1},{"s":5,"t":8.0,"v":4.2},
{"s":6,"t":0.05,"v":0},{"s":6,"t":0.08,"v":1.0},{"s":6,"t":0.2,"v":1.1},{"s":6,"t":0.5,"v":1.3},{"s":6,"t":1.0,"v":1.5},{"s":6,"t":1.5,"v":1.8},{"s":6,"t":2.0,"v":1.9},{"s":6,"t":2.5,"v":2.2},{"s":6,"t":3.0,"v":2.5},{"s":6,"t":3.5,"v":2.7},{"s":6,"t":4.0,"v":2.5},{"s":6,"t":4.15,"v":2.2},{"s":6,"t":4.25,"v":2.0},{"s":6,"t":4.5,"v":2.6},{"s":6,"t":5.0,"v":2.9},{"s":6,"t":5.5,"v":3.1},{"s":6,"t":6.0,"v":3.2},{"s":6,"t":6.5,"v":3.3},{"s":6,"t":7.0,"v":3.4},{"s":6,"t":7.5,"v":3.4},{"s":6,"t":8.0,"v":3.5},
{"s":7,"t":0.05,"v":0},{"s":7,"t":0.08,"v":1.3},{"s":7,"t":0.2,"v":1.2},{"s":7,"t":0.5,"v":1.4},{"s":7,"t":1.0,"v":1.7},{"s":7,"t":1.5,"v":1.9},{"s":7,"t":1.9,"v":2.3},{"s":7,"t":2.2,"v":2.6},{"s":7,"t":2.6,"v":2.7},{"s":7,"t":3.0,"v":2.6},{"s":7,"t":3.2,"v":1.7},{"s":7,"t":3.3,"v":2.0},{"s":7,"t":3.6,"v":2.2},{"s":7,"t":4.0,"v":2.6},{"s":7,"t":4.5,"v":2.9},{"s":7,"t":5.0,"v":3.3},{"s":7,"t":5.5,"v":3.5},{"s":7,"t":6.0,"v":3.6},{"s":7,"t":6.5,"v":3.8},{"s":7,"t":7.0,"v":4.0},{"s":7,"t":7.5,"v":4.1},{"s":7,"t":8.0,"v":4.2},
{"s":8,"t":0.05,"v":0},{"s":8,"t":0.08,"v":1.3},{"s":8,"t":0.2,"v":1.2},{"s":8,"t":0.5,"v":1.4},{"s":8,"t":1.0,"v":1.8},{"s":8,"t":1.5,"v":2.0},{"s":8,"t":2.0,"v":2.2},{"s":8,"t":2.5,"v":2.4},{"s":8,"t":3.0,"v":2.6},{"s":8,"t":3.5,"v":2.7},{"s":8,"t":4.0,"v":2.9},{"s":8,"t":4.5,"v":3.2},{"s":8,"t":5.0,"v":3.6},{"s":8,"t":5.5,"v":3.7},{"s":8,"t":6.0,"v":3.9},{"s":8,"t":6.5,"v":4.0},{"s":8,"t":7.0,"v":4.1},{"s":8,"t":7.5,"v":4.3},{"s":8,"t":8.0,"v":4.4},
{"s":9,"t":0.05,"v":0},{"s":9,"t":0.08,"v":1.0},{"s":9,"t":0.2,"v":0.9},{"s":9,"t":0.5,"v":1.1},{"s":9,"t":1.0,"v":1.3},{"s":9,"t":1.5,"v":1.6},{"s":9,"t":2.0,"v":1.7},{"s":9,"t":2.5,"v":1.85},{"s":9,"t":3.0,"v":1.95},{"s":9,"t":3.5,"v":2.2},{"s":9,"t":4.0,"v":2.5},{"s":9,"t":4.5,"v":2.8},{"s":9,"t":5.0,"v":3.0},{"s":9,"t":5.5,"v":3.2},{"s":9,"t":6.0,"v":3.3},{"s":9,"t":6.5,"v":3.5},{"s":9,"t":7.0,"v":3.7},{"s":9,"t":7.5,"v":3.8},{"s":9,"t":8.0,"v":3.9},
{"s":10,"t":0.05,"v":0},{"s":10,"t":0.08,"v":1.2},{"s":10,"t":0.2,"v":1.1},{"s":10,"t":0.5,"v":1.3},{"s":10,"t":1.0,"v":1.7},{"s":10,"t":1.5,"v":1.9},{"s":10,"t":2.0,"v":2.1},{"s":10,"t":2.5,"v":2.1},{"s":10,"t":3.0,"v":2.2},{"s":10,"t":3.5,"v":2.5},{"s":10,"t":4.0,"v":2.8},{"s":10,"t":4.5,"v":3.2},{"s":10,"t":5.0,"v":3.5},{"s":10,"t":5.5,"v":3.6},{"s":10,"t":6.0,"v":3.75},{"s":10,"t":6.5,"v":3.9},{"s":10,"t":7.0,"v":4.05},{"s":10,"t":7.5,"v":4.1},{"s":10,"t":8.0,"v":4.15}
],
"nB":[
{"s":1,"t":0.05,"v":0},{"s":1,"t":0.08,"v":1.0},{"s":1,"t":0.2,"v":1.2},{"s":1,"t":0.4,"v":1.3},{"s":1,"t":0.7,"v":1.6},{"s":1,"t":1.0,"v":1.95},{"s":1,"t":1.2,"v":2.3},{"s":1,"t":1.4,"v":2.8},{"s":1,"t":1.6,"v":3.3},{"s":1,"t":1.8,"v":3.8},{"s":1,"t":2.0,"v":4.2},{"s":1,"t":2.2,"v":4.45},{"s":1,"t":2.45,"v":4.6},{"s":1,"t":2.8,"v":4.55},{"s":1,"t":3.2,"v":4.5},{"s":1,"t":3.6,"v":4.45},{"s":1,"t":4.0,"v":4.45},{"s":1,"t":4.4,"v":4.35},{"s":1,"t":4.7,"v":4.3},{"s":1,"t":5.0,"v":4.4},{"s":1,"t":5.5,"v":4.5},{"s":1,"t":6.0,"v":4.45},{"s":1,"t":6.5,"v":4.4},{"s":1,"t":7.0,"v":4.45},{"s":1,"t":7.5,"v":4.5},{"s":1,"t":8.0,"v":4.55},
{"s":2,"t":0.05,"v":0},{"s":2,"t":0.08,"v":0.9},{"s":2,"t":0.2,"v":1.1},{"s":2,"t":0.4,"v":1.3},{"s":2,"t":0.7,"v":1.5},{"s":2,"t":1.0,"v":1.8},{"s":2,"t":1.2,"v":2.1},{"s":2,"t":1.4,"v":2.5},{"s":2,"t":1.6,"v":3.0},{"s":2,"t":1.8,"v":3.5},{"s":2,"t":2.0,"v":4.0},{"s":2,"t":2.2,"v":4.35},{"s":2,"t":2.45,"v":4.55},{"s":2,"t":2.8,"v":4.6},{"s":2,"t":3.2,"v":4.55},{"s":2,"t":3.6,"v":4.5},{"s":2,"t":4.0,"v":4.45},{"s":2,"t":4.4,"v":4.4},{"s":2,"t":4.7,"v":4.35},{"s":2,"t":5.0,"v":4.45},{"s":2,"t":5.5,"v":4.6},{"s":2,"t":6.0,"v":4.55},{"s":2,"t":6.5,"v":4.5},{"s":2,"t":7.0,"v":4.5},{"s":2,"t":7.5,"v":4.6},{"s":2,"t":8.0,"v":4.7},
{"s":3,"t":0.05,"v":0},{"s":3,"t":0.08,"v":0.8},{"s":3,"t":0.2,"v":1.0},{"s":3,"t":0.4,"v":1.2},{"s":3,"t":0.7,"v":1.4},{"s":3,"t":1.0,"v":1.7},{"s":3,"t":1.2,"v":1.9},{"s":3,"t":1.4,"v":2.2},{"s":3,"t":1.6,"v":2.6},{"s":3,"t":1.8,"v":3.1},{"s":3,"t":2.0,"v":3.5},{"s":3,"t":2.2,"v":3.8},{"s":3,"t":2.45,"v":4.1},{"s":3,"t":2.8,"v":4.25},{"s":3,"t":3.2,"v":4.35},{"s":3,"t":3.6,"v":4.4},{"s":3,"t":4.0,"v":4.45},{"s":3,"t":4.4,"v":4.4},{"s":3,"t":4.7,"v":4.4},{"s":3,"t":5.0,"v":4.5},{"s":3,"t":5.5,"v":4.45},{"s":3,"t":6.0,"v":4.5},{"s":3,"t":6.5,"v":4.5},{"s":3,"t":7.0,"v":4.5},{"s":3,"t":7.5,"v":4.7},{"s":3,"t":7.9,"v":5.05},{"s":3,"t":8.0,"v":5.0},
{"s":4,"t":0.05,"v":0},{"s":4,"t":0.08,"v":1.1},{"s":4,"t":0.2,"v":1.3},{"s":4,"t":0.4,"v":1.4},{"s":4,"t":0.7,"v":1.6},{"s":4,"t":1.0,"v":1.8},{"s":4,"t":1.2,"v":1.95},{"s":4,"t":1.4,"v":2.1},{"s":4,"t":1.6,"v":2.5},{"s":4,"t":1.8,"v":3.0},{"s":4,"t":2.0,"v":3.4},{"s":4,"t":2.2,"v":3.7},{"s":4,"t":2.45,"v":3.95},{"s":4,"t":2.8,"v":4.2},{"s":4,"t":3.2,"v":4.35},{"s":4,"t":3.6,"v":4.45},{"s":4,"t":4.0,"v":4.5},{"s":4,"t":4.4,"v":4.45},{"s":4,"t":4.7,"v":4.4},{"s":4,"t":5.0,"v":4.45},{"s":4,"t":5.5,"v":4.4},{"s":4,"t":6.0,"v":4.4},{"s":4,"t":6.5,"v":4.35},{"s":4,"t":7.0,"v":4.45},{"s":4,"t":7.5,"v":4.5},{"s":4,"t":8.0,"v":4.55},
{"s":5,"t":0.05,"v":0},{"s":5,"t":0.08,"v":1.2},{"s":5,"t":0.3,"v":1.4},{"s":5,"t":0.5,"v":1.5},{"s":5,"t":0.53,"v":2.4},{"s":5,"t":0.56,"v":1.6},{"s":5,"t":0.9,"v":1.5},{"s":5,"t":1.2,"v":2.0},{"s":5,"t":1.5,"v":2.2},{"s":5,"t":1.7,"v":2.4},{"s":5,"t":2.0,"v":3.0},{"s":5,"t":2.5,"v":3.1},{"s":5,"t":3.0,"v":3.05},{"s":5,"t":3.5,"v":3.2},{"s":5,"t":4.0,"v":3.3},{"s":5,"t":4.2,"v":3.3},{"s":5,"t":4.6,"v":3.6},{"s":5,"t":5.0,"v":3.9},{"s":5,"t":5.2,"v":3.2},{"s":5,"t":5.35,"v":3.7},{"s":5,"t":5.5,"v":3.3},{"s":5,"t":5.65,"v":3.9},{"s":5,"t":5.8,"v":3.4},{"s":5,"t":6.0,"v":3.2},{"s":5,"t":6.2,"v":3.6},{"s":5,"t":6.4,"v":3.0},{"s":5,"t":6.6,"v":3.5},{"s":5,"t":6.8,"v":3.7},{"s":5,"t":7.0,"v":4.0},{"s":5,"t":7.3,"v":3.8},{"s":5,"t":7.6,"v":4.2},{"s":5,"t":8.0,"v":4.4},
{"s":6,"t":0.05,"v":0},{"s":6,"t":0.08,"v":1.0},{"s":6,"t":0.3,"v":1.3},{"s":6,"t":0.6,"v":1.5},{"s":6,"t":0.85,"v":1.8},{"s":6,"t":0.89,"v":2.8},{"s":6,"t":0.93,"v":1.9},{"s":6,"t":1.4,"v":1.8},{"s":6,"t":1.8,"v":1.9},{"s":6,"t":2.2,"v":2.1},{"s":6,"t":2.6,"v":2.4},{"s":6,"t":3.0,"v":2.6},{"s":6,"t":3.5,"v":2.9},{"s":6,"t":4.0,"v":3.1},{"s":6,"t":4.3,"v":3.2},{"s":6,"t":4.6,"v":3.0},{"s":6,"t":5.0,"v":3.3},{"s":6,"t":5.3,"v":4.0},{"s":6,"t":5.5,"v":3.5},{"s":6,"t":5.7,"v":3.0},{"s":6,"t":5.9,"v":3.7},{"s":6,"t":6.2,"v":3.4},{"s":6,"t":6.4,"v":3.9},{"s":6,"t":6.6,"v":3.6},{"s":6,"t":6.8,"v":3.1},{"s":6,"t":7.0,"v":3.9},{"s":6,"t":7.2,"v":4.2},{"s":6,"t":7.4,"v":3.9},{"s":6,"t":7.6,"v":4.3},{"s":6,"t":7.8,"v":4.0},{"s":6,"t":8.0,"v":4.6}
]
},
"config":{
"view":{"stroke":"black","strokeWidth":3},
"axis":{"grid":true,"domainColor":"black","domainWidth":3,"tickColor":"black","tickWidth":2.5,"tickSize":19,"labelFont":"DejaVu Sans","labelFontSize":32,"labelColor":"black","labelPadding":6,"titleFont":"DejaVu Sans","titleFontSize":36,"titleFontWeight":"normal","titleColor":"black","gridColor":"#b0b0b0","gridWidth":2,"gridOpacity":1,"labelFlush":false}
},
"vconcat":[
{"width":940,"height":325,"layer":[
{"data":{"values":[{}]},"mark":{"type":"rect","color":"#ff7f0e","opacity":1},"encoding":{"x":{"datum":4.08,"type":"quantitative","scale":{"domain":[0,8],"nice":false},"axis":{"values":[0,1,2,3,4,5,6,7,8],"labels":false,"title":null,"grid":true}},"x2":{"datum":4.21}}},
{"data":{"values":[{}]},"mark":{"type":"rule","color":"#ff7f0e","strokeWidth":2},"encoding":{"x":{"datum":4.045,"type":"quantitative","axis":{"values":[0,1,2,3,4,5,6,7,8],"labels":false,"title":null,"grid":true}}}},
{"data":{"name":"teB"},"mark":{"type":"line","color":"#1f77b4","strokeWidth":2.2},"encoding":{"x":{"field":"t","type":"quantitative","scale":{"domain":[0,8],"nice":false},"axis":{"values":[0,1,2,3,4,5,6,7,8],"labels":false,"title":null,"grid":true}},"y":{"field":"v","type":"quantitative","scale":{"domain":[0,4.39],"nice":false},"axis":{"values":[0,2,4],"title":"Tₑ₀ [keV]","titlePadding":10}},"detail":{"field":"s"}}},
{"data":{"name":"teR"},"mark":{"type":"line","color":"#d62728","strokeWidth":2.2},"encoding":{"x":{"field":"t","type":"quantitative","scale":{"domain":[0,8],"nice":false},"axis":{"values":[0,1,2,3,4,5,6,7,8],"labels":false,"title":null,"grid":true}},"y":{"field":"v","type":"quantitative","scale":{"domain":[0,4.39],"nice":false},"axis":{"values":[0,2,4],"title":"Tₑ₀ [keV]","titlePadding":10}},"detail":{"field":"s"}}}
]},
{"width":940,"height":326,"layer":[
{"data":{"values":[{}]},"mark":{"type":"rect","color":"#ff7f0e","opacity":1},"encoding":{"x":{"datum":4.08,"type":"quantitative","scale":{"domain":[0,8],"nice":false},"axis":{"values":[0,1,2,3,4,5,6,7,8],"labels":false,"title":null,"grid":true}},"x2":{"datum":4.21}}},
{"data":{"values":[{}]},"mark":{"type":"rule","color":"#ff7f0e","strokeWidth":2},"encoding":{"x":{"datum":4.045,"type":"quantitative","axis":{"values":[0,1,2,3,4,5,6,7,8],"labels":false,"title":null,"grid":true}}}},
{"data":{"name":"pB"},"mark":{"type":"line","color":"#1f77b4","strokeWidth":2.2},"encoding":{"x":{"field":"t","type":"quantitative","scale":{"domain":[0,8],"nice":false},"axis":{"values":[0,1,2,3,4,5,6,7,8],"labels":false,"title":null,"grid":true}},"y":{"field":"v","type":"quantitative","scale":{"domain":[0,5.5],"nice":false},"axis":{"values":[0,2,4],"title":"Pʟʜᴄᴅ [MW]","titlePadding":10}},"detail":{"field":"s"}}},
{"data":{"name":"pR"},"mark":{"type":"line","color":"#d62728","strokeWidth":2.2},"encoding":{"x":{"field":"t","type":"quantitative","scale":{"domain":[0,8],"nice":false},"axis":{"values":[0,1,2,3,4,5,6,7,8],"labels":false,"title":null,"grid":true}},"y":{"field":"v","type":"quantitative","scale":{"domain":[0,5.5],"nice":false},"axis":{"values":[0,2,4],"title":"Pʟʜᴄᴅ [MW]","titlePadding":10}},"detail":{"field":"s"}}}
]},
{"width":940,"height":327,"layer":[
{"data":{"values":[{}]},"mark":{"type":"rect","color":"#ff7f0e","opacity":1},"encoding":{"x":{"datum":4.08,"type":"quantitative","scale":{"domain":[0,8],"nice":false},"axis":{"values":[0,1,2,3,4,5,6,7,8],"title":"Time [s]","titlePadding":10,"grid":true}},"x2":{"datum":4.21}}},
{"data":{"values":[{}]},"mark":{"type":"rule","color":"#ff7f0e","strokeWidth":2},"encoding":{"x":{"datum":4.045,"type":"quantitative","axis":{"values":[0,1,2,3,4,5,6,7,8],"title":"Time [s]","titlePadding":10,"grid":true}}}},
{"data":{"name":"nB"},"mark":{"type":"line","color":"#1f77b4","strokeWidth":2.2},"encoding":{"x":{"field":"t","type":"quantitative","scale":{"domain":[0,8],"nice":false},"axis":{"values":[0,1,2,3,4,5,6,7,8],"title":"Time [s]","titlePadding":10,"grid":true}},"y":{"field":"v","type":"quantitative","scale":{"domain":[0,5.23],"nice":false},"axis":{"values":[0,2,4],"title":"n̄ₑ [10¹⁹m⁻³]","titlePadding":10}},"detail":{"field":"s"}}},
{"data":{"name":"nR"},"mark":{"type":"line","color":"#d62728","strokeWidth":2.2},"encoding":{"x":{"field":"t","type":"quantitative","scale":{"domain":[0,8],"nice":false},"axis":{"values":[0,1,2,3,4,5,6,7,8],"title":"Time [s]","titlePadding":10,"grid":true}},"y":{"field":"v","type":"quantitative","scale":{"domain":[0,5.23],"nice":false},"axis":{"values":[0,2,4],"title":"n̄ₑ [10¹⁹m⁻³]","titlePadding":10}},"detail":{"field":"s"}}}
]}
]
}
